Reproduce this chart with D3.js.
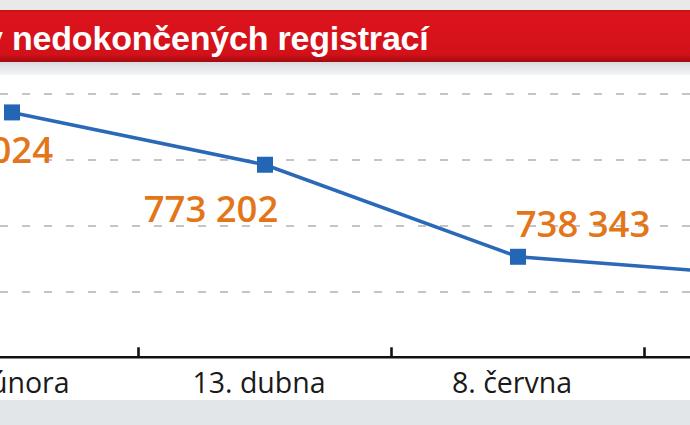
<!DOCTYPE html>
<html>
<head>
<meta charset="utf-8">
<script src="https://cdn.jsdelivr.net/npm/d3@7"></script>
<style>
  html, body { margin: 0; padding: 0; background: #ffffff; overflow: hidden; }
  svg { display: block; }
</style>
</head>
<body>
<script>
// ---- data ----
const titleText = "Počty nedokončených registrací";
const categories = ["16. února", "13. dubna", "8. června", "3. srpna"];
const values = [793024, 773202, 738343, 731022];
const valueLabels = ["793 024", "773 202", "738 343", "731 022"];
const gridValues = [725000, 750000, 775000, 800000];

// ---- layout ----
const W = 690, H = 425;
const labelLayout = [
  { anchor: "end", dx: 41, dy: 51 },
  { anchor: "middle", dx: -54, dy: 57 },
  { anchor: "middle", dx: 65, dy: -20 },
  { anchor: "middle", dx: 65, dy: -20 }
];

const svg = d3.select("body").append("svg")
  .attr("width", W).attr("height", H);

const defs = svg.append("defs");
const gRed = defs.append("linearGradient").attr("id", "redg")
  .attr("x1", 0).attr("y1", 0).attr("x2", 0).attr("y2", 1);
gRed.append("stop").attr("offset", "0%").attr("stop-color", "#c40f18");
gRed.append("stop").attr("offset", "6%").attr("stop-color", "#dc141d");
gRed.append("stop").attr("offset", "85%").attr("stop-color", "#d3111a");
gRed.append("stop").attr("offset", "100%").attr("stop-color", "#a30a10");

const gGray = defs.append("linearGradient").attr("id", "grayg")
  .attr("x1", 0).attr("y1", 0).attr("x2", 0).attr("y2", 1);
gGray.append("stop").attr("offset", "0%").attr("stop-color", "#d9dcdf");
gGray.append("stop").attr("offset", "100%").attr("stop-color", "#f4f5f6");

// background bands
svg.append("rect").attr("x", 0).attr("y", 0).attr("width", W).attr("height", 10).attr("fill", "#e9e9ea");
svg.append("rect").attr("x", 0).attr("y", 62).attr("width", W).attr("height", 13).attr("fill", "url(#grayg)");
svg.append("rect").attr("x", 0).attr("y", 10).attr("width", W).attr("height", 52).attr("fill", "url(#redg)");
svg.append("rect").attr("x", 0).attr("y", 400).attr("width", W).attr("height", 25).attr("fill", "#e3e6e9");

// title: place so that the word after the first space starts at x = 11
const title = svg.append("text")
  .attr("x", 0).attr("y", 50)
  .attr("text-anchor", "start")
  .attr("font-family", "'Liberation Sans', Arial, sans-serif")
  .attr("font-weight", "bold")
  .attr("font-size", 34)
  .attr("letter-spacing", -0.2)
  .attr("fill", "#ffffff")
  .text(titleText);
try {
  const idx = titleText.indexOf(" ") + 1;
  const p = title.node().getStartPositionOfChar(idx).x;
  title.attr("x", 12 - p);
} catch (e) {
  title.attr("x", 427).attr("text-anchor", "end");
}

// scales
const step = 253;
const x = d3.scaleBand()
  .domain(categories)
  .range([138.5 - step, 138.5 + step * (categories.length - 1)])
  .paddingInner(0).paddingOuter(0);
const y = d3.scaleLinear().domain([700000, 800000]).range([358, 94]);
const cx = d => x(d) + x.bandwidth() / 2;

// grid
svg.append("g").selectAll("line").data(gridValues).join("line")
  .attr("x1", 0).attr("x2", W)
  .attr("y1", d => y(d)).attr("y2", d => y(d))
  .attr("stroke", "#c4c4c4")
  .attr("stroke-width", 2)
  .attr("stroke-dasharray", "8,14");

// x axis
const axisY = y(700000) - 0.7;
const axis = svg.append("g")
  .attr("transform", `translate(0,${axisY})`)
  .call(d3.axisBottom(x).tickSize(0).tickPadding(0));
axis.select(".domain").remove();
axis.append("line")
  .attr("x1", 0).attr("x2", W).attr("y1", 0).attr("y2", 0)
  .attr("stroke", "#111").attr("stroke-width", 2.6);
axis.selectAll(".tick text")
  .attr("font-family", "'Open Sans', sans-serif")
  .attr("font-size", 28.5)
  .attr("fill", "#1a1a1a")
  .attr("dy", null)
  .attr("y", 36)
  .attr("dx", -6);
// boundary ticks
axis.append("g").selectAll("line").data(categories).join("line")
  .attr("x1", d => x(d)).attr("x2", d => x(d))
  .attr("y1", 0).attr("y2", -10)
  .attr("stroke", "#111").attr("stroke-width", 2.6);

// line
const pts = categories.map((c, i) => ({ c, v: values[i], lbl: valueLabels[i], lay: labelLayout[i] }));
svg.append("path")
  .datum(pts)
  .attr("fill", "none")
  .attr("stroke", "#2a68b8")
  .attr("stroke-width", 3.5)
  .attr("d", d3.line().x(d => cx(d.c)).y(d => y(d.v)));

// markers
const ms = 16;
svg.append("g").selectAll("rect").data(pts).join("rect")
  .attr("x", d => cx(d.c) - ms / 2)
  .attr("y", d => y(d.v) - ms / 2)
  .attr("width", ms).attr("height", ms)
  .attr("fill", "#2466b6");

// value labels
svg.append("g").selectAll("text").data(pts).join("text")
  .attr("x", d => cx(d.c) + d.lay.dx)
  .attr("y", d => y(d.v) + d.lay.dy)
  .attr("text-anchor", d => d.lay.anchor)
  .attr("font-family", "'Open Sans', sans-serif")
  .attr("font-weight", 600)
  .attr("font-size", 36.5)
  .attr("fill", "#e3761a")
  .text(d => d.lbl);
</script>
</body>
</html>
